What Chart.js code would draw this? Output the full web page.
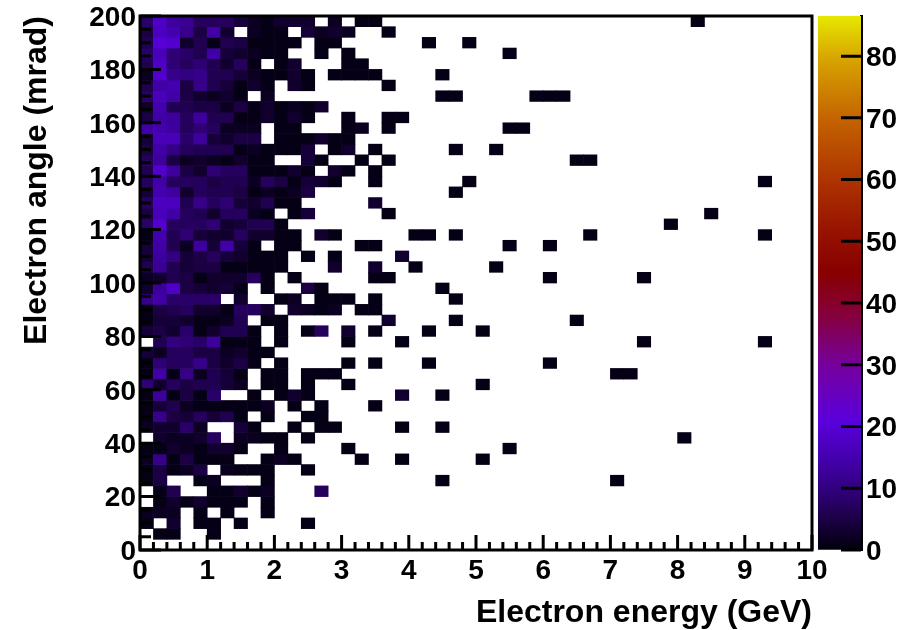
<!DOCTYPE html>
<html>
<head>
<meta charset="utf-8">
<title>Electron angle vs energy</title>
<script src="https://cdn.jsdelivr.net/npm/chart.js@4"></script>
<style>
    html, body { margin: 0; padding: 0; background: #fff; }
    #wrap { position: relative; width: 912px; height: 630px; overflow: hidden; filter: blur(0.5px); }
    #wrap canvas { position: absolute; top: 0; }
    #map { left: 0; }
    #bar { left: 812px; }
</style>
</head>
<body>
<div id="wrap">
    <canvas id="map" width="912" height="630"></canvas>
    <canvas id="bar" width="100" height="630"></canvas>
</div>
<script>
// Bin widths of the histogram: 50 x 50 cells over 0-10 GeV and 0-200 mrad
const energyBinWidth = 0.2;
const angleBinWidth = 4;

// Counts, one row per angle bin, bottom row first.
// Each row starts at 0 GeV, missing values on the right are empty bins.
const cellCounts = [
    [],
    [0,1,1,0,0,1],
    [1,0,3,0,1,1,0,1,0,0,0,0,1],
    [2,2,2,0,1,0,1,0,0,1],
    [0,1,3,1,3,1,1,1,0,1],
    [0,1,6,0,0,1,1,3,1,2,0,0,0,7],
    [1,5,0,0,1,2,0,0,0,1,0,0,0,0,0,0,0,0,0,0,0,0,1,0,0,0,0,0,0,0,0,0,0,0,0,1],
    [1,5,1,2,5,0,2,1,1,1,0,0,1],
    [2,11,1,5,1,1,1,0,0,1,2,1,0,0,0,0,1,0,0,1,0,0,0,0,0,1],
    [1,1,3,2,1,3,3,1,0,0,1,0,0,0,0,1,0,0,0,0,0,0,0,0,0,0,0,1],
    [0,3,2,2,3,7,0,2,2,1,1,0,1,0,0,0,0,0,0,0,0,0,0,0,0,0,0,0,0,0,0,0,0,0,0,0,0,0,0,0,1],
    [2,3,3,8,2,0,0,4,1,0,0,1,0,1,1,0,0,0,0,1,0,0,1],
    [1,11,5,4,7,4,6,1,0,1,0,0,1,1],
    [1,4,6,2,1,1,1,1,1,2,0,1,0,1,0,0,0,1],
    [1,13,1,5,1,8,0,0,1,0,1,3,1,0,0,0,0,0,0,3,0,0,1],
    [9,3,7,5,6,6,4,2,0,1,1,0,1,0,0,1,0,0,0,0,0,0,0,0,0,1],
    [1,14,1,11,2,6,4,1,0,1,1,0,1,1,1,0,0,0,0,0,0,0,0,0,0,0,0,0,0,0,0,0,0,0,0,1,1],
    [1,9,7,7,11,5,3,5,1,0,1,0,0,0,0,1,0,1,0,0,0,1,0,0,0,0,0,0,0,0,1],
    [4,2,7,7,5,5,2,3,1,1],
    [0,6,10,9,8,13,1,1,1,0,1,0,0,0,0,1,0,0,0,1,0,0,0,0,0,0,0,0,0,0,0,0,0,0,0,0,0,1,0,0,0,0,0,0,0,0,1],
    [4,5,3,8,1,3,6,6,1,0,1,0,1,7,0,3,0,1,0,0,0,1,0,0,0,1],
    [1,4,4,3,1,1,2,6,0,1,1,0,0,0,0,0,0,0,3,0,0,0,0,1,0,0,0,0,0,0,0,0,1],
    [1,5,6,7,3,3,1,7,7,3,0,3,2,1,2,0,1,1],
    [11,14,8,8,8,8,0,3,0,0,1,2,0,1,1,1,0,1,0,0,0,0,0,1],
    [3,13,18,5,4,3,4,1,0,1,0,0,5,1,0,0,0,0,0,0,0,0,1],
    [2,3,6,5,1,3,3,3,7,1,0,1,0,0,0,0,0,1,1,0,0,0,0,0,0,0,0,0,0,0,1,0,0,0,0,0,0,1],
    [6,12,6,4,5,5,1,1,1,1,1,0,0,0,3,0,0,3,0,0,1,0,0,0,0,0,1],
    [4,13,10,4,5,7,4,3,1,1,1,0,1,0,1,0,0,0,0,3],
    [4,14,6,2,13,4,14,4,1,0,1,1,0,0,0,0,1,1,0,0,0,0,0,0,0,0,0,1,0,0,1],
    [1,15,6,9,4,3,3,7,3,3,1,1,0,3,1,0,0,0,0,0,1,1,0,1,0,0,0,0,0,0,0,0,0,1,0,0,0,0,0,0,0,0,0,0,0,0,1],
    [8,19,7,7,7,9,3,4,6,6,1,0,0,0,0,0,0,0,0,0,0,0,0,0,0,0,0,0,0,0,0,0,0,0,0,0,0,0,0,1],
    [5,16,14,7,6,3,7,7,2,1,0,1,4,0,0,0,0,0,1,0,0,0,0,0,0,0,0,0,0,0,0,0,0,0,0,0,0,0,0,0,0,0,1],
    [7,17,17,6,11,7,9,4,3,6,1,1,0,0,0,0,0,3],
    [4,15,13,3,7,6,6,5,1,2,1,2,5,0,0,0,0,0,0,0,0,0,0,1],
    [7,14,7,7,7,5,6,6,2,7,5,1,4,3,1,0,0,1,0,0,0,0,0,0,1,0,0,0,0,0,0,0,0,0,0,0,0,0,0,0,0,0,0,0,0,0,1],
    [6,19,13,5,3,9,7,7,1,1,1,3,1,0,3,1,0,1],
    [7,13,5,2,3,2,1,3,1,1,0,0,4,1,0,0,1,0,1,0,0,0,0,0,0,0,0,0,0,0,0,0,1,1],
    [5,14,10,7,6,6,6,1,2,1,1,1,4,0,1,3,0,1,0,0,0,0,0,1,0,0,1],
    [4,16,16,8,13,4,3,5,5,0,1,1,1,3,1,1],
    [14,15,13,7,9,7,2,2,2,0,1,1,0,0,0,1,2,0,1,0,0,0,0,0,0,0,0,1,1],
    [5,14,13,7,13,6,6,1,1,3,1,3,1,0,0,1,0,0,1,1],
    [3,15,6,6,5,5,2,5,1,3,1,2,1,3],
    [8,16,14,5,3,2,3,1,0,2,0,0,0,0,0,0,0,0,0,0,0,0,1,1,0,0,0,0,0,1,1,1],
    [6,14,15,5,11,6,4,1,3,1,0,3,1,0,0,0,0,0,1],
    [2,19,11,10,11,6,6,4,2,1,1,3,1,0,1,1,1,1,0,0,0,0,1],
    [6,18,9,7,9,6,3,7,1,0,1,3,0,0,0,1,1],
    [8,16,9,8,6,14,4,3,2,1,1,0,0,1,0,1,0,0,0,0,0,0,0,0,0,0,0,1],
    [6,20,19,3,6,1,6,5,1,1,1,1,0,1,1,0,0,0,0,0,0,1,0,0,1],
    [5,17,15,11,5,14,3,0,2,1,1,0,4,2,3,2,0,0,1],
    [8,18,13,12,7,7,7,4,2,1,3,3,3,0,2,0,1,1,0,0,0,0,0,0,0,0,0,0,0,0,0,0,0,0,0,0,0,0,0,0,0,1]
];

// Colour scale
const paletteValues = [0, 5, 10, 16, 21, 30, 38, 45, 52, 60, 70, 80, 86.5];
const paletteColours = ['#00000c', '#1c0044', '#320080', '#4800b8', '#5a00dc', '#76009c',
    '#86003c', '#880000', '#981400', '#ae3400', '#c46400', '#d8a800', '#e8e800'];
const paletteMax = 86.5;
const paletteTicks = [0, 10, 20, 30, 40, 50, 60, 70, 80];

const labelFont = { family: '"Liberation Sans", Arial, sans-serif', size: 28, weight: 'bold' };
const titleFont = { family: '"Liberation Sans", Arial, sans-serif', size: 32, weight: 'bold' };

function hexToRgb(hex) {
    return [1, 3, 5].map(i => parseInt(hex.substr(i, 2), 16));
}

function colourFor(value) {
    let i = 0;
    while (i < paletteValues.length - 2 && value > paletteValues[i + 1]) i++;
    const t = (value - paletteValues[i]) / (paletteValues[i + 1] - paletteValues[i]);
    const a = hexToRgb(paletteColours[i]);
    const b = hexToRgb(paletteColours[i + 1]);
    return `rgb(${a.map((v, k) => Math.round(v + (b[k] - v) * t)).join(',')})`;
}

// Only filled bins are drawn, empty ones stay white
const cells = [];
cellCounts.forEach((row, r) => {
    row.forEach((count, c) => {
        if (count > 0) {
            cells.push({
                x: (c + 0.5) * energyBinWidth,
                y: [r * angleBinWidth, (r + 1) * angleBinWidth],
                count
            });
        }
    });
});

// ROOT style frame: ticks point inwards, minor ones are shorter
const frameTicks = {
    id: 'frameTicks',
    afterDatasetsDraw(chart) {
        const { ctx, chartArea: a, scales: { x, y } } = chart;
        ctx.save();
        ctx.strokeStyle = '#000';
        ctx.lineWidth = 3;
        ctx.strokeRect(a.left, a.top, a.right - a.left, a.bottom - a.top);
        ctx.beginPath();
        for (let i = 0; i <= 50; i++) {
            const px = x.getPixelForValue(i * energyBinWidth);
            ctx.moveTo(px, a.bottom);
            ctx.lineTo(px, a.bottom - (i % 5 === 0 ? 15 : 8));
        }
        for (let i = 0; i <= 40; i++) {
            const py = y.getPixelForValue(i * 5);
            ctx.moveTo(a.left, py);
            ctx.lineTo(a.left + (i % 4 === 0 ? 21 : 11), py);
        }
        ctx.stroke();
        ctx.restore();
    }
};

new Chart(document.getElementById('map'), {
    type: 'bar',
    data: {
        datasets: [{
            data: cells,
            backgroundColor: ctx => colourFor(ctx.raw.count),
            borderWidth: 0,
            barPercentage: 1,
            categoryPercentage: 1
        }]
    },
    plugins: [frameTicks],
    options: {
        responsive: false,
        animation: false,
        layout: { padding: { top: 16, right: 100, left: 0, bottom: 0 } },
        plugins: { legend: { display: false }, tooltip: { enabled: false } },
        scales: {
            x: {
                type: 'linear',
                min: 0,
                max: 10,
                offset: false,
                grid: { display: false, offset: false, drawTicks: false },
                border: { display: false },
                ticks: { stepSize: 1, color: '#000', font: labelFont, maxRotation: 0, autoSkip: false, padding: 4 },
                title: {
                    display: true,
                    text: 'Electron energy (GeV)',
                    align: 'end',
                    color: '#000',
                    font: titleFont,
                    padding: { top: 0, bottom: -2 }
                },
                afterFit(scale) {
                    scale.height = 80;
                    scale.paddingLeft = 0;
                    scale.paddingRight = 0;
                }
            },
            y: {
                min: 0,
                max: 200,
                grid: { display: false, drawTicks: false },
                border: { display: false },
                ticks: { stepSize: 20, color: '#000', font: labelFont, autoSkip: false, padding: 4, labelOffset: 2 },
                title: {
                    display: true,
                    text: 'Electron angle (mrad)',
                    align: 'end',
                    color: '#000',
                    font: titleFont,
                    padding: { top: 18, bottom: 0 }
                },
                afterFit(scale) {
                    scale.width = 140;
                    scale.paddingTop = 0;
                    scale.paddingBottom = 0;
                }
            }
        }
    }
});

// Colour bar on the right
const barPaddingLeft = 6;
new Chart(document.getElementById('bar'), {
    type: 'bar',
    data: {
        labels: [''],
        datasets: [{
            data: [[0, paletteMax]],
            backgroundColor: ctx => {
                const area = ctx.chart.chartArea;
                if (!area) return '#000';
                const g = ctx.chart.ctx.createLinearGradient(0, area.bottom, 0, area.top);
                paletteValues.forEach((v, i) => g.addColorStop(v / paletteMax, paletteColours[i]));
                return g;
            },
            borderWidth: 0,
            barPercentage: 1,
            categoryPercentage: 1
        }]
    },
    options: {
        responsive: false,
        animation: false,
        layout: { padding: { top: 16, bottom: 80, left: barPaddingLeft, right: 0 } },
        plugins: { legend: { display: false }, tooltip: { enabled: false } },
        scales: {
            x: { display: false },
            y: {
                position: 'right',
                min: 0,
                max: paletteMax,
                afterBuildTicks(scale) { scale.ticks = paletteTicks.map(value => ({ value })); },
                grid: {
                    drawOnChartArea: false,
                    drawTicks: false
                },
                border: { display: true, color: '#000', width: 3 },
                ticks: { color: '#000', font: labelFont, padding: 5, autoSkip: false, labelOffset: 2 },
                afterFit(scale) {
                    scale.width = 51;
                    scale.paddingTop = 0;
                    scale.paddingBottom = 0;
                }
            }
        }
    },
    plugins: [{
        // the bar's ticks sit inside its right edge
        id: 'barTicks',
        afterDatasetsDraw(chart) {
            const { ctx, chartArea: a, scales: { y } } = chart;
            ctx.save();
            ctx.strokeStyle = '#000';
            ctx.lineWidth = 3;
            ctx.beginPath();
            paletteTicks.forEach(v => {
                const py = y.getPixelForValue(v);
                ctx.moveTo(a.right, py);
                ctx.lineTo(a.right - 20, py);
            });
            ctx.stroke();
            ctx.restore();
        }
    }]
});
</script>
</body>
</html>
